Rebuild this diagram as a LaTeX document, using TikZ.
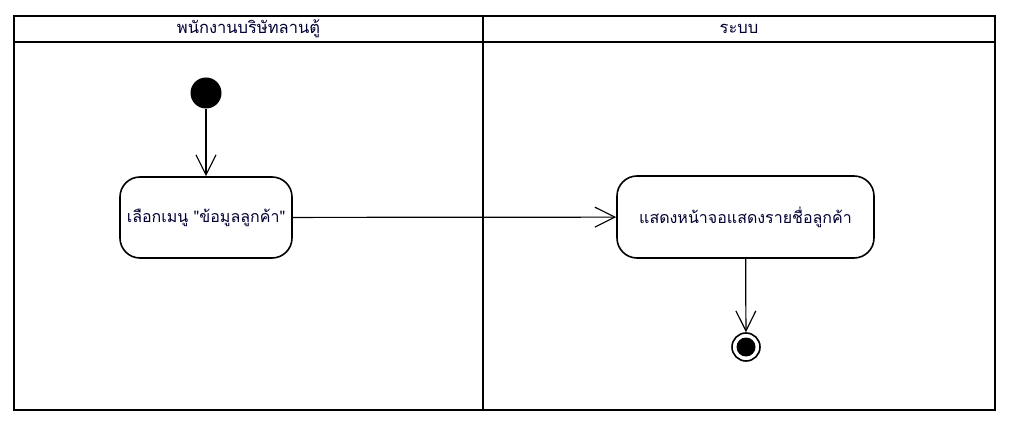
\documentclass[tikz,border=0pt]{standalone}
\usepackage{fontspec}
\newfontfamily\thaifont[Script=Thai]{Loma}
\usetikzlibrary{arrows.meta}
\begin{document}
\begin{tikzpicture}[x=1pt,y=-1pt,
  lane/.style={draw=black,line width=2.8pt},
  act/.style={draw=black,line width=1.6pt,rounded corners=20pt,fill=white,font=\thaifont\fontsize{16}{18}\selectfont,text=black!80!blue,inner sep=0pt},
  flow/.style={draw=black,line width=1.2pt,-{Straight Barb[length=20pt,width=20pt,line width=1.2pt]}},
  hdr/.style={font=\thaifont\fontsize{16.5}{18}\selectfont,text=black!80!blue}]
\useasboundingbox (0,0) rectangle (1020,430);
\draw[lane] (14,16) rectangle (995,410);
\draw[lane] (14,42) -- (995,42);
\draw[lane] (483,16) -- (483,410);
\node[hdr] (h1) at (248.5,29) {พนักงานบริษัทลานตู้};
\node[hdr] (h2) at (739,29) {ระบบ};
\node[circle,fill=black,minimum size=31pt,inner sep=0pt] (start) at (206,93) {};
\node[act,minimum width=172pt,minimum height=81pt] (a1) at (206,217.5) {เลือกเมนู "ข้อมูลลูกค้า"};
\node[act,minimum width=257pt,minimum height=82pt] (a2) at (745.5,217) {แสดงหน้าจอแสดงรายชื่อลูกค้า};
\node[circle,draw=black,line width=1.6pt,fill=white,minimum size=28pt,inner sep=0pt] (end) at (746,347) {};
\node[circle,fill=black,minimum size=19pt,inner sep=0pt] (endin) at (end) {};
\draw[flow] (start) -- (a1);
\draw[flow] (a1) -- (a2);
\draw[flow] (a2) -- (end);
\end{tikzpicture}
\end{document}
